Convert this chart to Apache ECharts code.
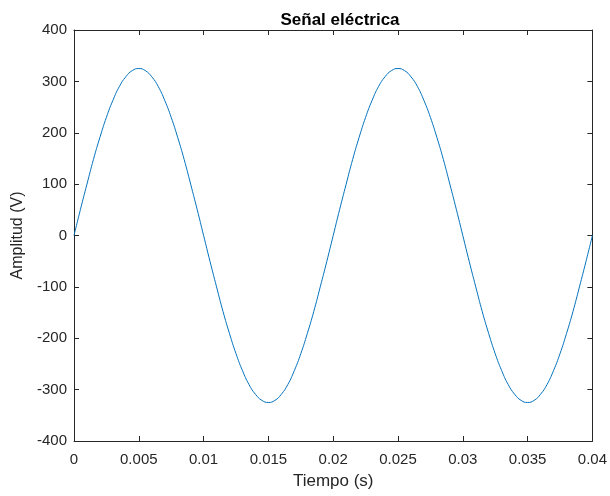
<!DOCTYPE html>
<html>
<head>
<meta charset="utf-8">
<script src="https://cdn.jsdelivr.net/npm/echarts@6/dist/echarts.min.js"></script>
<style>
  html, body { margin: 0; padding: 0; background: #fff; }
  #chart { width: 610px; height: 496px; }
</style>
</head>
<body>
<div id="chart"></div>
<script>
// tiempo (s) y amplitud (V)
let tiempo = [
    0, 0.0005, 0.001, 0.0015, 0.002, 0.0025, 0.003, 0.0035, 0.004, 0.0045,
    0.005, 0.0055, 0.006, 0.0065, 0.007, 0.0075, 0.008, 0.0085, 0.009, 0.0095,
    0.01, 0.0105, 0.011, 0.0115, 0.012, 0.0125, 0.013, 0.0135, 0.014, 0.0145,
    0.015, 0.0155, 0.016, 0.0165, 0.017, 0.0175, 0.018, 0.0185, 0.019, 0.0195,
    0.02, 0.0205, 0.021, 0.0215, 0.022, 0.0225, 0.023, 0.0235, 0.024, 0.0245,
    0.025, 0.0255, 0.026, 0.0265, 0.027, 0.0275, 0.028, 0.0285, 0.029, 0.0295,
    0.03, 0.0305, 0.031, 0.0315, 0.032, 0.0325, 0.033, 0.0335, 0.034, 0.0345,
    0.035, 0.0355, 0.036, 0.0365, 0.037, 0.0375, 0.038, 0.0385, 0.039, 0.0395,
    0.04
];
let amplitud = [
    0, 51, 100, 148, 191, 230, 263, 290, 309, 321,
    325, 321, 309, 290, 263, 230, 191, 148, 100, 51,
    0, -51, -100, -148, -191, -230, -263, -290, -309, -321,
    -325, -321, -309, -290, -263, -230, -191, -148, -100, -51,
    0, 51, 100, 148, 191, 230, 263, 290, 309, 321,
    325, 321, 309, 290, 263, 230, 191, 148, 100, 51,
    0, -51, -100, -148, -191, -230, -263, -290, -309, -321,
    -325, -321, -309, -290, -263, -230, -191, -148, -100, -51,
    0
];
let xTicks = ['0', '0.005', '0.01', '0.015', '0.02', '0.025', '0.03', '0.035', '0.04'];
let yTicks = ['-400', '-300', '-200', '-100', '0', '100', '200', '300', '400'];

let myChart = echarts.init(document.getElementById('chart'));

let font = 'Liberation Sans, Arial, sans-serif';
let axisColor = '#262626';

// eje con borde tipo caja, ticks hacia dentro
function boxAxis(extra) {
    return Object.assign({
        type: 'value',
        axisLine: { show: true, onZero: false, lineStyle: { color: axisColor, width: 1 } },
        axisTick: { show: true, inside: true, length: 5, lineStyle: { color: axisColor } },
        axisLabel: { show: false },
        splitLine: { show: false }
    }, extra);
}

myChart.setOption({
    animation: false,
    textStyle: { fontFamily: font },
    title: {
        text: 'Señal eléctrica',
        left: 335,
        textAlign: 'center',
        top: 7,
        textStyle: { fontSize: 17, fontWeight: 'bold', color: '#000', fontFamily: font }
    },
    grid: { left: 74, right: 15, top: 30, bottom: 55 },
    xAxis: [
        boxAxis({
            min: 0, max: 0.04, interval: 0.005,
            name: 'Tiempo (s)',
            nameLocation: 'middle',
            nameGap: 32,
            nameTextStyle: { fontSize: 17, color: '#262626' },
            axisLabel: {
                fontSize: 15, color: '#262626', margin: 11,
                formatter: function (v) { return xTicks[Math.round(v / 0.005)]; }
            }
        }),
        boxAxis({ position: 'top', min: 0, max: 0.04, interval: 0.005 })
    ],
    yAxis: [
        boxAxis({
            min: -400, max: 400, interval: 100,
            name: 'Amplitud (V)',
            nameLocation: 'middle',
            nameGap: 48,
            nameTextStyle: { fontSize: 16, color: '#262626' },
            axisLabel: {
                fontSize: 15, color: '#262626', margin: 7,
                formatter: function (v) { return yTicks[Math.round((v + 400) / 100)]; }
            }
        }),
        boxAxis({ position: 'right', min: -400, max: 400, interval: 100 })
    ],
    series: [
        {
            type: 'line',
            data: tiempo.map(function (t, i) { return [t, amplitud[i]]; }),
            smooth: true,
            showSymbol: false,
            lineStyle: { color: '#0072BD', width: 1 }
        }
    ]
});
</script>
</body>
</html>
